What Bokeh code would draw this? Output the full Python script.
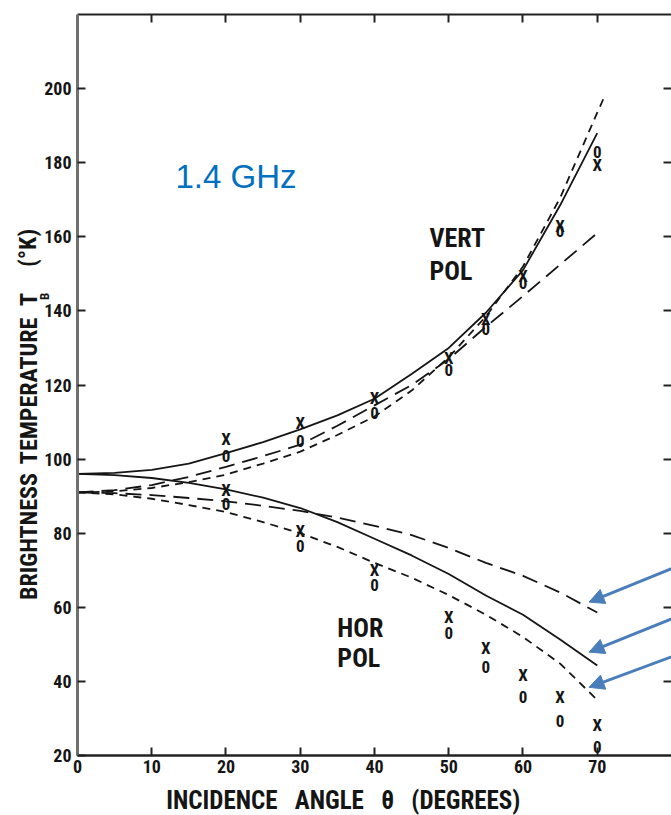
import math
from bokeh.plotting import figure
from bokeh.models import (LinearAxis, FixedTicker, Label, Arrow, NormalHead, Range1d)
from bokeh.embed import file_html
from bokeh.resources import INLINE

# Incidence angles (degrees) at which the model curves are sampled
angles = [0, 5, 10, 15, 20, 25, 30, 35, 40, 45, 50, 55, 60, 65, 70]
angles_ext = angles + [71]

# Vertical polarization model curves (K)
v_solid = [96.0, 96.3, 97.1, 98.8, 101.6, 104.6, 108.0, 111.8, 116.3, 123.0, 130.0, 139.5, 151.0, 168.5, 188.0]
v_long = [91.0, 91.6, 93.0, 95.2, 97.9, 100.8, 103.9, 109.0, 114.5, 120.0, 127.0, 135.7, 144.0, 152.5, 161.0]
v_short = [91.0, 91.3, 92.2, 93.8, 95.8, 98.8, 102.0, 106.5, 111.5, 118.5, 127.5, 138.5, 152.0, 170.5, 193.5, 198.0]

# Horizontal polarization model curves (K)
h_solid = [96.0, 95.7, 94.9, 93.6, 91.8, 89.6, 86.8, 83.0, 78.5, 74.0, 69.0, 63.2, 58.0, 51.3, 44.3]
h_long = [91.0, 90.8, 90.3, 89.5, 88.6, 87.4, 86.0, 84.2, 82.0, 79.5, 76.0, 72.0, 68.5, 64.0, 58.6]
h_short = [91.0, 90.5, 89.3, 87.6, 85.7, 83.0, 80.0, 76.3, 72.0, 68.0, 63.3, 58.0, 52.0, 44.8, 35.0]

# Measured brightness temperatures (K), two data sets marked X and 0
point_angles = [20, 30, 40, 50, 55, 60, 65, 70]
v_x = [105.5, 109.7, 116.5, 127.3, 137.8, 149.5, 163.0, 179.5]
v_o = [100.8, 105.0, 112.5, 124.0, 135.0, 147.5, 161.5, 183.0]
h_x = [91.6, 80.5, 70.0, 57.3, 48.9, 41.6, 35.7, 28.1]
h_o = [87.8, 76.5, 66.0, 53.0, 44.0, 35.9, 29.2, 22.4]

x_ticks = [0, 10, 20, 30, 40, 50, 60, 70]
y_ticks = [20, 40, 60, 80, 100, 120, 140, 160, 180, 200]

FONT = "'Roboto Condensed', 'DejaVu Sans Condensed', 'Liberation Sans Narrow', Roboto"
INK = "#151515"
BLUE_TEXT = "#0070C0"
BLUE_ARROW = "#4A7EBB"

# The frame fills the canvas; the axes are pinned at the plot box edges
p = figure(width=671, height=815, output_backend="svg", toolbar_location=None,
           x_range=Range1d(-10.37, 80.0), y_range=Range1d(3.806, 223.78),
           x_axis_location=None, y_axis_location=None,
           min_border=0, background_fill_color="white", border_fill_color="white")
p.outline_line_color = None
p.grid.visible = False


def make_axis(ticks, loc, bounds, labels, line_color, line_width):
    ax = LinearAxis(ticker=FixedTicker(ticks=ticks), fixed_location=loc, bounds=bounds,
                    major_tick_in=8, major_tick_out=0, minor_tick_line_color=None,
                    axis_line_color=line_color, axis_line_width=line_width,
                    major_tick_line_width=2, major_tick_line_color="#222222",
                    major_label_text_font=FONT, major_label_text_font_style="bold",
                    major_label_text_font_size="18px", major_label_text_color=INK)
    if not labels:
        # tick marks only on the top and right edges of the box
        ax.major_label_overrides = {t: "" for t in ticks}
    return ax


bottom = make_axis(x_ticks, 20, (0, 80), True, "#222222", 2.5)
bottom.major_label_standoff = 4
left = make_axis(y_ticks, 0, (20, 220), True, "#707070", 3)
left.major_label_standoff = 6
top = make_axis(x_ticks[1:], 220, (0, 80), False, "#222222", 2)
right = make_axis(y_ticks[1:], 80, (20, 220), False, None, 2)
p.add_layout(bottom, "below")
p.add_layout(left, "left")
p.add_layout(top, "above")
p.add_layout(right, "right")

# Model curves
p.line(angles, v_solid, line_color=INK, line_width=1.8)
p.line(angles, v_long, line_color=INK, line_width=1.8, line_dash="16 8")
p.line(angles_ext, v_short, line_color=INK, line_width=1.8, line_dash="8 6")
p.line(angles, h_solid, line_color=INK, line_width=1.8)
p.line(angles, h_long, line_color=INK, line_width=1.8, line_dash="16 8")
p.line(angles, h_short, line_color=INK, line_width=1.8, line_dash="8 6")

# Measured points drawn as letters
for series, char in [(v_x, "X"), (v_o, "0"), (h_x, "X"), (h_o, "0")]:
    for ang, temp in zip(point_angles, series):
        p.add_layout(Label(x=ang, y=temp, text=char, text_font=FONT,
                           text_font_style="bold", text_font_size="17px",
                           text_color=INK, text_align="center", text_baseline="middle"))

# Polarization labels
for txt, lx, ly in [("VERT", 47.4, 159.8), ("POL", 47.4, 150.9),
                    ("HOR", 35.0, 54.5), ("POL", 35.0, 46.2)]:
    p.add_layout(Label(x=lx, y=ly, text=txt, text_font=FONT, text_font_style="bold",
                       text_font_size="26px", text_color=INK,
                       text_align="left", text_baseline="alphabetic"))

p.add_layout(Label(x=13.2, y=176.3, text="1.4 GHz", text_font="Liberation Sans",
                   text_font_size="33px", text_color=BLUE_TEXT,
                   text_align="left", text_baseline="alphabetic"))

# Axis titles
nb = "\u00a0\u00a0\u00a0"
p.add_layout(Label(x=35.8, y=7.85, text=f"INCIDENCE{nb}ANGLE{nb}\u03b8{nb}(DEGREES)",
                   text_font=FONT, text_font_style="bold", text_font_size="25px",
                   text_color=INK, text_align="center", text_baseline="middle"))
for txt, ly, lx, size in [("BRIGHTNESS", 79.1, -6.53, "24px"),
                          ("TEMPERATURE", 118.4, -6.53, "24px"),
                          ("T", 143.1, -6.53, "24px"),
                          ("B", 143.9, -4.4, "13px"),
                          ("(\u00b0K)", 157.0, -6.73, "24px")]:
    p.add_layout(Label(x=lx, y=ly, text=txt, angle=math.pi / 2, text_font=FONT,
                       text_font_style="bold", text_font_size=size, text_color=INK,
                       text_align="center", text_baseline="middle"))

# Arrows pointing at the ends of the horizontal-polarization curves
for y_end, (dy_tip, dy_start) in zip([h_long[-1], h_solid[-1], h_short[-1]],
                                     [(2.8, 12.2), (3.6, 13.0), (3.4, 12.0)]):
    p.add_layout(Arrow(end=NormalHead(size=15, fill_color=BLUE_ARROW, line_color=BLUE_ARROW),
                       x_start=80.5, y_start=y_end + dy_start,
                       x_end=68.9, y_end=y_end + dy_tip,
                       line_color=BLUE_ARROW, line_width=3))

open("out.html", "w").write(file_html(p, INLINE))
